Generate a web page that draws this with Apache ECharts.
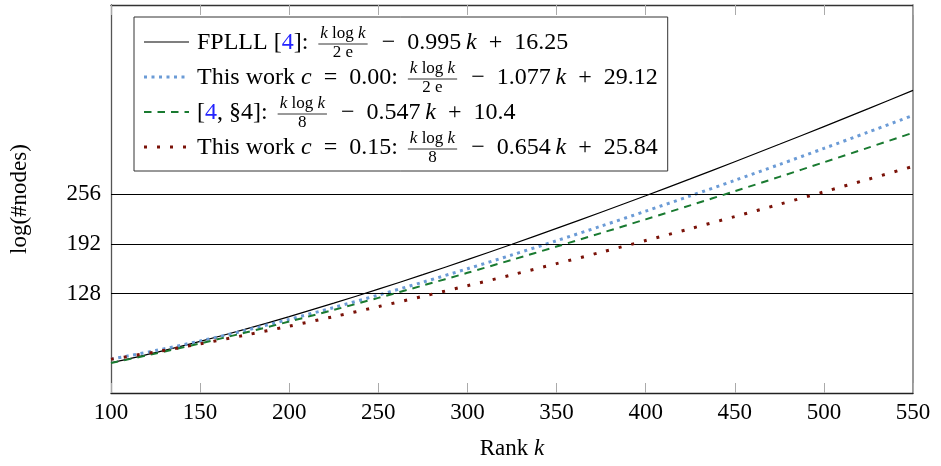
<!DOCTYPE html>
<html>
<head>
<meta charset="utf-8">
<script src="https://cdn.jsdelivr.net/npm/echarts@6/dist/echarts.min.js"></script>
<style>
  html, body { margin: 0; padding: 0; background: #fff; }
  #chart { width: 941px; height: 466px; }
</style>
</head>
<body>
<div id="chart"></div>
<script>
// values, every 25 ranks
const ranks = [100, 125, 150, 175, 200, 225, 250, 275, 300, 325, 350, 375, 400, 425, 450, 475, 500, 525, 550];
const fplll = [38.96, 52.04, 66.45, 81.98, 98.45, 115.76, 133.81, 152.52, 171.83, 191.71, 212.08, 232.94, 254.23, 275.95, 298.04, 320.52, 343.33, 366.49, 389.95];
const work000 = [43.63, 54.66, 67.02, 80.50, 94.92, 110.18, 126.18, 142.84, 160.10, 177.93, 196.25, 215.06, 234.30, 253.97, 274.01, 294.44, 315.20, 336.31, 357.72];
const ref4 = [38.75, 50.87, 63.89, 77.68, 92.10, 107.09, 122.58, 138.53, 154.88, 171.62, 188.69, 206.10, 223.79, 241.78, 260.03, 278.53, 297.26, 316.23, 335.40];
const work015 = [43.49, 52.93, 63.28, 74.39, 86.14, 98.45, 111.27, 124.54, 138.22, 152.28, 166.68, 181.41, 196.43, 211.74, 227.32, 243.14, 259.20, 275.49, 292.00];
const yTicks = [128, 192, 256];

const FONT = '"Liberation Serif", "DejaVu Serif", serif';
const BLUE_REF = '#2323ff';
const SP = '\u2002';   // wide math space around operators
const TH = '\u2009';   // thin space before k

const styles = [
  { color: '#000000', width: 1.2, type: 'solid' },
  { color: '#6b9bd6', width: 3, type: [3, 4.5] },
  { color: '#197a30', width: 2, type: [7.5, 6] },
  { color: '#7a1208', width: 3, type: [3, 10] }
];

const fracNum = [['k', 'i'], [' log ', 'n'], ['k', 'i']];
const legendRows = [
  [['FPLLL [', 'n'], ['4', 'b'], [']: ', 'n'], { num: fracNum, den: [['2 e', 'n']] }, [SP + '−' + SP + '0.995' + TH, 'n'], ['k', 'i'], [SP + '+' + SP + '16.25', 'n']],
  [['This work ', 'n'], ['c', 'i'], [SP + '=' + SP + '0.00: ', 'n'], { num: fracNum, den: [['2 e', 'n']] }, [SP + '−' + SP + '1.077' + TH, 'n'], ['k', 'i'], [SP + '+' + SP + '29.12', 'n']],
  [['[', 'n'], ['4', 'b'], [', §4]: ', 'n'], { num: fracNum, den: [['8', 'n']] }, [SP + '−' + SP + '0.547' + TH, 'n'], ['k', 'i'], [SP + '+' + SP + '10.4', 'n']],
  [['This work ', 'n'], ['c', 'i'], [SP + '=' + SP + '0.15: ', 'n'], { num: fracNum, den: [['8', 'n']] }, [SP + '−' + SP + '0.654' + TH, 'n'], ['k', 'i'], [SP + '+' + SP + '25.84', 'n']]
];

const ctx = document.createElement('canvas').getContext('2d');
function fontOf(kind, size) {
  return (kind === 'i' ? 'italic ' : '') + size + 'px ' + FONT;
}
function textW(parts, size) {
  let w = 0;
  parts.forEach(p => { ctx.font = fontOf(p[1], size); w += ctx.measureText(p[0]).width; });
  return w;
}
function putText(els, parts, x, y, size) {
  parts.forEach(p => {
    els.push({
      type: 'text', x: x, y: y, z: 101,
      style: { text: p[0], font: fontOf(p[1], size), fill: p[1] === 'b' ? BLUE_REF : '#000', verticalAlign: 'middle', align: 'left' }
    });
    ctx.font = fontOf(p[1], size);
    x += ctx.measureText(p[0]).width;
  });
  return x;
}

function buildLegend() {
  const els = [];
  const top = 17, bottom = 171, left = 134;
  const rowY = [42, 77, 112, 147];
  const big = 24, small = 17;
  let maxX = 0;
  legendRows.forEach((row, r) => {
    const cy = rowY[r];
    const st = styles[r];
    els.push({
      type: 'line', z: 101,
      shape: { x1: 144, y1: cy, x2: 189, y2: cy },
      style: { stroke: st.color, lineWidth: st.width, lineDash: st.type === 'solid' ? null : st.type }
    });
    let x = 197;
    row.forEach(part => {
      if (Array.isArray(part)) {
        x = putText(els, [part], x, cy + 1, big);
      } else {
        const nw = textW(part.num, small), dw = textW(part.den, small);
        const w = Math.max(nw, dw) + 4;
        x += 4;
        putText(els, part.num, x + (w - nw) / 2, cy - 8, small);
        putText(els, part.den, x + (w - dw) / 2, cy + 11, small);
        els.push({ type: 'line', z: 101, shape: { x1: x, y1: cy + 2, x2: x + w, y2: cy + 2 }, style: { stroke: '#000', lineWidth: 0.8 } });
        x += w + 2;
      }
    });
    maxX = Math.max(maxX, x);
  });
  els.unshift({
    type: 'rect', z: 100,
    shape: { x: left, y: top, width: maxX + 10 - left, height: bottom - top },
    style: { fill: '#fff', stroke: '#333', lineWidth: 1 }
  });
  return els;
}

const chart = echarts.init(document.getElementById('chart'));

const lineData = [fplll, work000, ref4, work015];
const series = lineData.map((vals, i) => ({
  type: 'line',
  data: ranks.map((k, j) => [k, vals[j]]),
  showSymbol: false,
  smooth: 0.3,
  z: 3 + i,
  lineStyle: { color: styles[i].color, width: styles[i].width, type: styles[i].type, cap: 'butt' }
}));
series[0].markLine = {
  silent: true, symbol: 'none', animation: false,
  label: { show: false },
  lineStyle: { color: '#000', width: 1, type: 'solid' },
  data: yTicks.map(v => ({ yAxis: v }))
};

const tickLabel = { fontFamily: FONT, fontSize: 23, color: '#000' };

chart.setOption({
  animation: false,
  grid: { left: 111, right: 28, top: 5, bottom: 73 },
  xAxis: [{
    type: 'value', min: 100, max: 550, interval: 50,
    name: '{n|Rank }{i|k}', nameLocation: 'middle', nameGap: 44,
    nameTextStyle: { rich: { n: { fontFamily: FONT, fontSize: 23, color: '#000' }, i: { fontFamily: FONT, fontSize: 23, fontStyle: 'italic', color: '#000' } } },
    axisLine: { show: true, onZero: false, lineStyle: { color: '#222', width: 1.3 } },
    axisTick: { show: true, inside: true, length: 10, lineStyle: { color: '#aaa', width: 1 } },
    axisLabel: Object.assign({ margin: 8 }, tickLabel),
    splitLine: { show: false }
  }, {
    type: 'value', min: 100, max: 550, interval: 50, position: 'top',
    axisLine: { show: true, onZero: false, lineStyle: { color: '#333', width: 1.3 } },
    axisTick: { show: true, inside: true, length: 10, lineStyle: { color: '#aaa', width: 1 } },
    axisLabel: { show: false },
    splitLine: { show: false }
  }],
  yAxis: [{
    type: 'value', min: 0, max: 500, interval: 64,
    name: 'log(#nodes)', nameLocation: 'middle', nameGap: 80,
    nameTextStyle: { fontFamily: FONT, fontSize: 23, color: '#000' },
    axisLine: { show: true, onZero: false, lineStyle: { color: '#555', width: 1.3 } },
    axisTick: { show: false },
    axisLabel: Object.assign({ margin: 10, formatter: v => (yTicks.indexOf(v) >= 0 ? String(v) : '') }, tickLabel),
    splitLine: { show: false }
  }, {
    type: 'value', min: 0, max: 500, position: 'right',
    axisLine: { show: true, onZero: false, lineStyle: { color: '#777', width: 1.5 } },
    axisTick: { show: false },
    axisLabel: { show: false },
    splitLine: { show: false }
  }],
  series: series,
  graphic: buildLegend()
});
</script>
</body>
</html>
